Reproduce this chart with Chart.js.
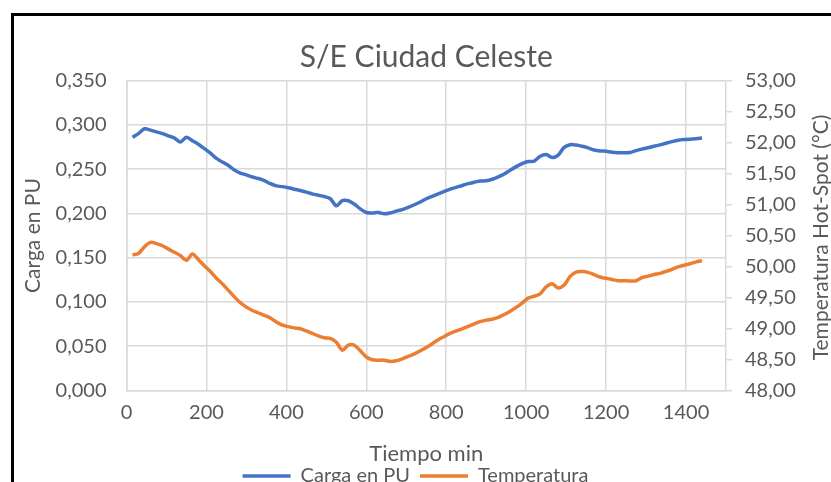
<!DOCTYPE html>
<html>
<head>
<meta charset="utf-8">
<script src="https://cdn.jsdelivr.net/npm/chart.js@4.4.1/dist/chart.umd.min.js"></script>
<style>
    html, body { margin: 0; padding: 0; background: #fff; overflow: hidden; }
    #wrap { position: absolute; left: 0; top: 0; width: 831px; height: 482px; overflow: hidden; }
    #frame { position: absolute; left: 11px; top: 13px; width: 900px; height: 600px; border: 3px solid #000; box-sizing: border-box; }
    #box { position: absolute; left: 0; top: 0; width: 831px; height: 496px; }
</style>
</head>
<body>
<div id="wrap">
    <div id="frame"></div>
    <div id="box"><canvas id="chart"></canvas></div>
</div>
<script>
// Tiempo (min), una lectura cada 15 min
const tiempos = [
    15, 30, 45, 60, 75, 90, 105, 120, 135, 150, 165, 180,
    195, 210, 225, 240, 255, 270, 285, 300, 315, 330, 345, 360,
    375, 390, 405, 420, 435, 450, 465, 480, 495, 510, 525, 540,
    555, 570, 585, 600, 615, 630, 645, 660, 675, 690, 705, 720,
    735, 750, 765, 780, 795, 810, 825, 840, 855, 870, 885, 900,
    915, 930, 945, 960, 975, 990, 1005, 1020, 1035, 1050, 1065, 1080,
    1095, 1110, 1125, 1140, 1155, 1170, 1185, 1200, 1215, 1230, 1245, 1260,
    1275, 1290, 1305, 1320, 1335, 1350, 1365, 1380, 1395, 1410, 1425, 1440
];

const cargaPU = [
    0.286, 0.290, 0.2955, 0.294, 0.292, 0.290, 0.2875, 0.285, 0.2805, 0.286, 0.282, 0.278,
    0.273, 0.268, 0.262, 0.258, 0.254, 0.249, 0.2455, 0.2435, 0.241, 0.2393, 0.237, 0.2335,
    0.231, 0.2302, 0.229, 0.2273, 0.2258, 0.224, 0.222, 0.2205, 0.219, 0.2165, 0.2086, 0.2143,
    0.2143, 0.2105, 0.205, 0.201, 0.2005, 0.2011, 0.1995, 0.2005, 0.2025, 0.2042, 0.2068, 0.2097,
    0.2128, 0.2165, 0.2192, 0.222, 0.2248, 0.2273, 0.2293, 0.2315, 0.2335, 0.2352, 0.2365, 0.2368,
    0.2385, 0.2412, 0.2445, 0.2488, 0.2528, 0.2562, 0.2585, 0.259, 0.2645, 0.2665, 0.263, 0.2657,
    0.2745, 0.2775, 0.2772, 0.2758, 0.274, 0.2715, 0.2705, 0.2702, 0.269, 0.2685, 0.2685, 0.2687,
    0.2708, 0.2725, 0.274, 0.2758, 0.2773, 0.2792, 0.281, 0.2825, 0.2833, 0.2838, 0.2842, 0.285
];

const temperatura = [
    50.19, 50.21, 50.32, 50.39, 50.37, 50.335, 50.28, 50.23, 50.175, 50.10, 50.20, 50.11,
    50.01, 49.92, 49.81, 49.72, 49.615, 49.51, 49.415, 49.345, 49.29, 49.25, 49.21, 49.17,
    49.105, 49.055, 49.03, 49.01, 48.995, 48.96, 48.92, 48.88, 48.85, 48.84, 48.78, 48.65,
    48.73, 48.73, 48.64, 48.54, 48.495, 48.489, 48.489, 48.47, 48.48, 48.51, 48.55, 48.59,
    48.64, 48.695, 48.755, 48.82, 48.87, 48.92, 48.96, 48.995, 49.035, 49.075, 49.11, 49.135,
    49.15, 49.18, 49.225, 49.28, 49.34, 49.41, 49.49, 49.52, 49.56, 49.67, 49.72, 49.655,
    49.70, 49.84, 49.91, 49.92, 49.905, 49.87, 49.83, 49.81, 49.79, 49.772, 49.77, 49.768,
    49.77, 49.82, 49.845, 49.87, 49.89, 49.92, 49.955, 49.995, 50.02, 50.045, 50.075, 50.095
];

const ticksTiempo = [0, 200, 400, 600, 800, 1000, 1200, 1400];

const FONT = "Lato, 'Open Sans', sans-serif";
const GRIS_TEXTO = '#595959';
const GRIS_GRID = '#d9d9d9';
const TITULO_DERECHO = 'Temperatura Hot-Spot (°C)';

Chart.defaults.font.family = FONT;
Chart.defaults.color = GRIS_TEXTO;

const coma = (v, d) => Number(v).toFixed(d).replace('.', ',');

// Excel writes the right axis title bottom-to-top, Chart.js would turn it the other way
const tituloDerecho = {
    id: 'tituloDerecho',
    afterDraw(chart) {
        const { ctx, chartArea } = chart;
        ctx.save();
        ctx.translate(chart.width - 10, (chartArea.top + chartArea.bottom) / 2 + 2);
        ctx.rotate(-Math.PI / 2);
        ctx.font = `21px ${FONT}`;
        ctx.fillStyle = GRIS_TEXTO;
        ctx.textAlign = 'center';
        ctx.textBaseline = 'middle';
        ctx.fillText(TITULO_DERECHO, 0, 0);
        ctx.restore();
    }
};

new Chart(document.getElementById('chart'), {
    type: 'line',
    data: {
        datasets: [
            {
                label: 'Carga en PU',
                data: tiempos.map((t, i) => ({ x: t, y: cargaPU[i] })),
                borderColor: '#4472c4',
                backgroundColor: '#4472c4',
                borderWidth: 3.5,
                pointRadius: 0,
                pointStyle: 'line',
                tension: 0.3,
                yAxisID: 'y'
            },
            {
                label: 'Temperatura',
                data: tiempos.map((t, i) => ({ x: t, y: temperatura[i] })),
                borderColor: '#ed7d31',
                backgroundColor: '#ed7d31',
                borderWidth: 3.5,
                pointRadius: 0,
                pointStyle: 'line',
                tension: 0.3,
                yAxisID: 'y1'
            }
        ]
    },
    plugins: [tituloDerecho],
    options: {
        responsive: true,
        maintainAspectRatio: false,
        animation: false,
        layout: { padding: 0 },
        plugins: {
            title: {
                display: true,
                fullSize: false,
                text: 'S/E Ciudad Celeste',
                color: GRIS_TEXTO,
                font: { size: 30, weight: 'normal', lineHeight: 1.2 },
                padding: { top: 39, bottom: 5.5 }
            },
            legend: {
                position: 'bottom',
                labels: {
                    usePointStyle: true,
                    pointStyleWidth: 48,
                    padding: 10,
                    color: GRIS_TEXTO,
                    font: { size: 20 }
                }
            },
            tooltip: { enabled: false }
        },
        scales: {
            x: {
                type: 'linear',
                min: 0,
                max: 1500,
                afterBuildTicks: (scale) => {
                    scale.ticks = ticksTiempo.map(v => ({ value: v }));
                },
                afterFit: (scale) => { scale.height = 65.5; },
                grid: { color: GRIS_GRID, lineWidth: 1.5, drawTicks: false },
                border: { color: GRIS_GRID, width: 1.5 },
                ticks: {
                    padding: 10,
                    font: { size: 20 },
                    maxRotation: 0,
                    autoSkip: false,
                    callback: (v) => String(v)
                },
                title: {
                    display: true,
                    text: 'Tiempo min',
                    font: { size: 22, lineHeight: 1 },
                    padding: { top: 0, bottom: -9 }
                }
            },
            y: {
                position: 'left',
                min: 0,
                max: 0.35,
                afterFit: (scale) => { scale.width = 126.5; },
                grid: { color: GRIS_GRID, lineWidth: 1.5, drawTicks: false },
                border: { color: GRIS_GRID, width: 1.5 },
                ticks: {
                    stepSize: 0.05,
                    padding: 20,
                    autoSkip: false,
                    font: { size: 20 },
                    callback: (v) => coma(v, 3)
                },
                title: {
                    display: true,
                    text: 'Carga en PU',
                    font: { size: 21, lineHeight: 1.2 },
                    padding: { top: 20.4, bottom: 0 }
                }
            },
            y1: {
                position: 'right',
                min: 48,
                max: 53,
                afterFit: (scale) => { scale.width = 105; },
                grid: { drawOnChartArea: false, color: GRIS_GRID, lineWidth: 1.5, drawTicks: true, tickLength: 6 },
                border: { color: GRIS_GRID, width: 1.5 },
                ticks: {
                    stepSize: 0.5,
                    padding: 13,
                    autoSkip: false,
                    font: { size: 20 },
                    callback: (v) => coma(v, 2)
                },
                title: { display: false }
            }
        }
    }
});
</script>
</body>
</html>
